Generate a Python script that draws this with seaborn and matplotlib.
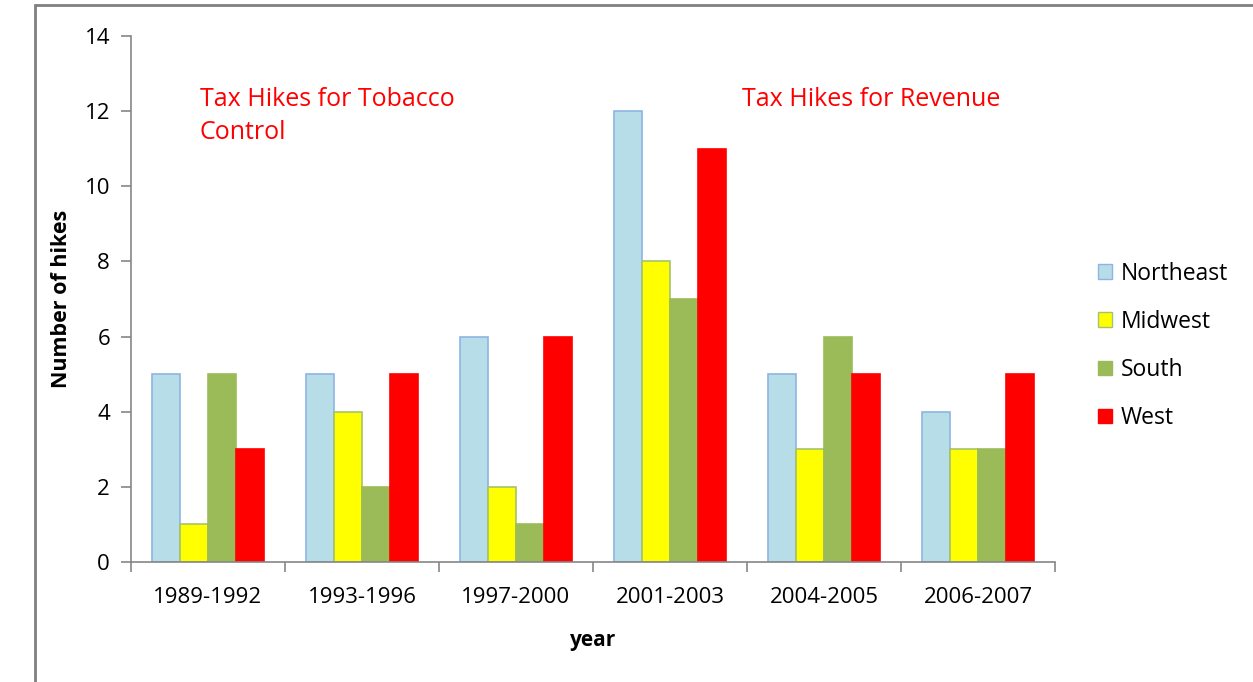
import matplotlib
matplotlib.use("Agg")
import matplotlib.pyplot as plt
import seaborn as sns
import pandas as pd
from matplotlib.patches import Rectangle

periods = ["1989-1992", "1993-1996", "1997-2000", "2001-2003", "2004-2005", "2006-2007"]
regions = ["Northeast", "Midwest", "South", "West"]
northeast = [5, 5, 6, 12, 5, 4]
midwest = [1, 4, 2, 8, 3, 3]
south = [5, 2, 1, 7, 6, 3]
west = [3, 5, 6, 11, 5, 5]

colors = ["#B7DEE8", "#FFFF00", "#9BBB59", "#FF0000"]
edges = ["#8EB4E3", "#A6C36B", "#9BBB59", "#FF0000"]

df = pd.DataFrame({
    "year": periods * 4,
    "region": sum([[r] * len(periods) for r in regions], []),
    "hikes": northeast + midwest + south + west,
})

sns.set_style("white")
plt.rcParams['font.family'] = ['Open Sans', 'DejaVu Sans']
plt.rcParams['text.color'] = 'black'
plt.rcParams['axes.labelcolor'] = 'black'

fig = plt.figure(figsize=(12.53, 6.82), dpi=100)
ax = fig.add_axes([0.1045, 0.176, 0.7375, 0.771])

sns.barplot(data=df, x="year", y="hikes", hue="region", order=periods,
            hue_order=regions, palette=colors, width=0.725, ax=ax,
            saturation=1, legend=True)

for i, cont in enumerate(ax.containers):
    for p in cont:
        p.set_edgecolor(edges[i])
        p.set_linewidth(1.2)

ax.set_ylim(0, 14)
ax.set_xlim(-0.5, 5.5)
ax.set_yticks(range(0, 15, 2))
ax.set_xticks(range(len(periods)))
ax.set_xticklabels(periods)
ax.set_xticks([i - 0.5 for i in range(len(periods) + 1)], minor=True)
ax.tick_params(axis='x', which='major', length=0, pad=18, labelsize=16, labelcolor='black')
ax.tick_params(axis='x', which='minor', length=7, color="#868686", width=1.2, direction='out')
ax.tick_params(axis='y', length=7, color="#868686", width=1.2, direction='out',
               labelsize=16, pad=8, labelcolor='black')
ax.tick_params(bottom=True, left=True, which='both')

for s in ["top", "right"]:
    ax.spines[s].set_visible(False)
for s in ["left", "bottom"]:
    ax.spines[s].set_color("#868686")
    ax.spines[s].set_linewidth(1.2)

ax.set_xlabel("year", fontsize=15, fontweight="bold", labelpad=16)
ax.set_ylabel("Number of hikes", fontsize=15.5, fontweight="bold")
ax.yaxis.set_label_coords(-0.064, 0.5)

ax.text(-0.054, 12.65, "Tax Hikes for Tobacco\nControl", color="#FF0000",
        fontsize=18, ha="left", va="top", linespacing=1.45)
ax.text(3.47, 12.65, "Tax Hikes for Revenue", color="#FF0000",
        fontsize=18, ha="left", va="top")

leg = ax.legend(loc="center left", bbox_to_anchor=(1.024, 0.411), frameon=False,
                fontsize=16.5, labelspacing=1.05, handlelength=0.6, handleheight=0.6,
                handletextpad=0.4, title=None)
for h, e in zip(leg.legend_handles, edges):
    h.set_edgecolor(e)

fig.patches.append(Rectangle((35 / 1253, -0.05), 1.1, 1 - 5 / 682 + 0.05,
                             transform=fig.transFigure, fill=False,
                             edgecolor="#808080", linewidth=2, zorder=0))

fig.savefig("out.png", dpi=100)
